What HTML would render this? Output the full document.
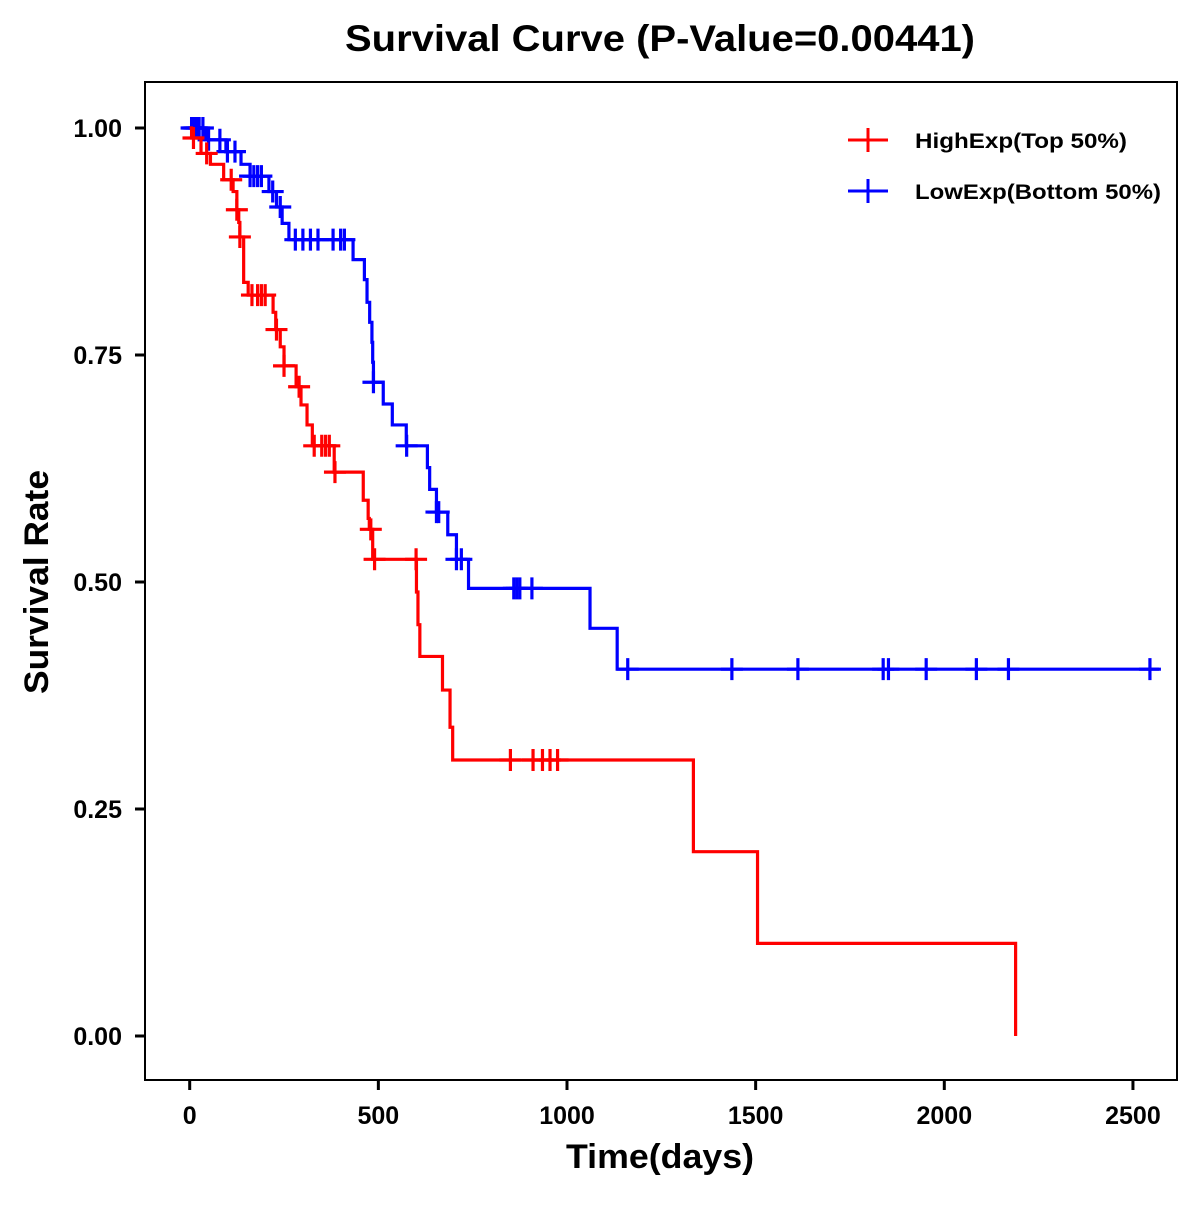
<!DOCTYPE html>
<html><head><meta charset="utf-8"><style>
body{margin:0;background:#fff;}
svg text{font-family:"Liberation Sans",Arial,sans-serif;font-weight:bold;}
</style></head><body>
<svg id="chart" width="1200" height="1200" xmlns="http://www.w3.org/2000/svg">
<rect width="1200" height="1200" fill="#fff"/>
<text x="660" y="51" font-size="37" text-anchor="middle" textLength="630" lengthAdjust="spacingAndGlyphs">Survival Curve (P-Value=0.00441)</text>
<rect x="145" y="82" width="1032" height="998" fill="none" stroke="#000" stroke-width="2"/>
<g id="xaxis"></g>
<g id="yaxis"></g>
<text x="660" y="1168" font-size="34" text-anchor="middle" textLength="188" lengthAdjust="spacingAndGlyphs">Time(days)</text>
<text transform="translate(48,582) rotate(-90)" font-size="34" text-anchor="middle" textLength="224" lengthAdjust="spacingAndGlyphs">Survival Rate</text>
<g id="series"></g>
<g>
<g>
<line x1="848" y1="140" x2="888" y2="140" stroke="#f00" stroke-width="3"/>
<line x1="868" y1="128" x2="868" y2="152" stroke="#f00" stroke-width="3"/>
<text x="915" y="148" font-size="21" textLength="212" lengthAdjust="spacingAndGlyphs">HighExp(Top 50%)</text></g>
<g>
<line x1="848" y1="191" x2="888" y2="191" stroke="#00f" stroke-width="3"/>
<line x1="868" y1="179" x2="868" y2="203" stroke="#00f" stroke-width="3"/>
<text x="915" y="199" font-size="21" textLength="246" lengthAdjust="spacingAndGlyphs">LowExp(Bottom 50%)</text></g>
</g>
</svg>
<script>
const xTicks=[0,500,1000,1500,2000,2500];
const yTicks=[0,0.25,0.5,0.75,1.0];
const yTickLabels=["0.00","0.25","0.50","0.75","1.00"];
const highTimes=[5,30,55,90,115,125,130,133,143,155,221,228,240,250,282,295,311,325,383,460,473,476,485,601,605,610,670,690,697,1335,1505,2189];
const highSurv=[.989,.972,.96,.943,.93,.91,.896,.88,.83,.816,.797,.778,.759,.738,.715,.695,.673,.65,.621,.59,.57,.558,.525,.489,.453,.418,.381,.34,.304,.203,.102,0];
const highCensor=[10,45,110,125,133,165,180,190,200,230,250,290,330,350,360,370,385,480,490,600,850,910,935,955,975];
const highEnd=2189;
const lowTimes=[43,96,136,160,210,230,245,263,433,463,470,477,483,485,487,513,537,574,630,636,654,684,707,739,1061,1133];
const lowSurv=[.987,.974,.96,.947,.93,.913,.895,.877,.855,.833,.808,.786,.764,.742,.72,.696,.673,.65,.626,.602,.577,.552,.525,.493,.449,.404];
const lowCensor=[5,10,15,20,25,35,50,80,100,120,160,170,180,190,220,240,280,300,320,340,380,410,400,487,575,654,660,707,720,859,867,875,907,1161,1437,1612,1838,1852,1952,2085,2170,2545];
const lowEnd=2569;

const NS="http://www.w3.org/2000/svg";
const X=t=>189.7+t*0.3773;
const Y=s=>1036-s*908;
function mk(tag,attrs,parent){const e=document.createElementNS(NS,tag);for(const k in attrs)e.setAttribute(k,attrs[k]);parent.appendChild(e);return e;}
const xa=document.getElementById('xaxis'),ya=document.getElementById('yaxis'),ser=document.getElementById('series');
xTicks.forEach(v=>{
 const l=mk('line',{x1:X(v),x2:X(v),y1:1080,y2:1090,stroke:'#000','stroke-width':3},xa);
 
 
 const t=mk('text',{x:X(v),y:1124,'font-size':25,'text-anchor':'middle'},xa);t.textContent=v;
 
 
});
yTicks.forEach((v,i)=>{
 const l=mk('line',{x1:135,x2:145,y1:Y(v),y2:Y(v),stroke:'#000','stroke-width':3},ya);
 
 
 const t=mk('text',{x:122,y:Y(v)+9,'font-size':25,'text-anchor':'end'},ya);t.textContent=yTickLabels[i];
 
 
});
function survAt(times,surv,t){let s=1;for(let i=0;i<times.length;i++){if(times[i]<=t)s=surv[i];}return s;}
function drawSeries(times,surv,cens,end,color,name){
 const g=mk('g',{},ser);
 
 
 let d='M'+X(0)+','+Y(1);let s=1;
 for(let i=0;i<times.length;i++){d+=' H'+X(times[i])+' V'+Y(surv[i]);s=surv[i];}
 if(s>0)d+=' H'+X(end);
 const p=mk('path',{d:d,fill:'none',stroke:color,'stroke-width':3.2},g);
 
 
 cens.forEach(c=>{
  const cx=X(c),cy=Y(survAt(times,surv,c));
  const m=mk('path',{d:`M${cx-11},${cy} H${cx+11} M${cx},${cy-11} V${cy+11}`,stroke:color,'stroke-width':3.2,fill:'none'},g);
  
  
 });
}
drawSeries(lowTimes,lowSurv,lowCensor,lowEnd,'#00f','low-exp-curve');
drawSeries(highTimes,highSurv,highCensor,highEnd,'#f00','high-exp-curve');
</script>
</body></html>
